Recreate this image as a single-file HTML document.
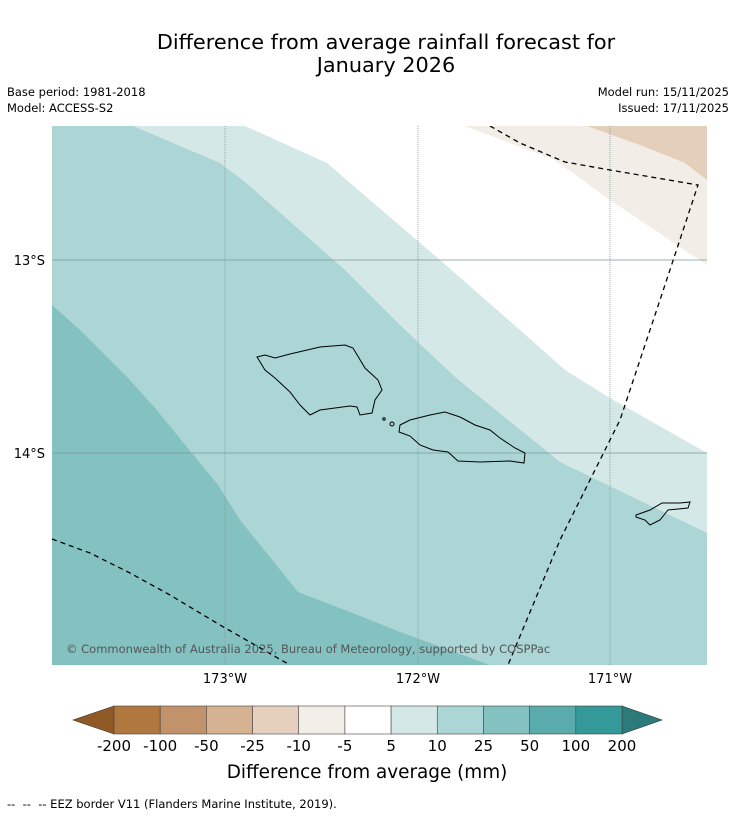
<!DOCTYPE html>
<html><head><meta charset="utf-8"><style>
body{margin:0;background:#fff;width:736px;height:816px;overflow:hidden;font-family:"DejaVu Sans","Liberation Sans",sans-serif}
.t{position:absolute;color:#000}
svg text{font-family:"DejaVu Sans","Liberation Sans",sans-serif}
</style></head><body>
<div class="t" style="left:0;width:772px;top:31px;text-align:center;font-size:20.8px;line-height:23px">Difference from average rainfall forecast for<br>January 2026</div>
<div class="t" style="left:7px;top:84px;font-size:11.5px;line-height:16px">Base period: 1981-2018<br>Model: ACCESS-S2</div>
<div class="t" style="right:7px;top:84px;font-size:11.5px;line-height:16px;text-align:right">Model run: 15/11/2025<br>Issued: 17/11/2025</div>
<svg id="s" width="736" height="816" style="position:absolute;left:0;top:0">
<defs><clipPath id="c"><rect x="52" y="126" width="655" height="539"/></clipPath></defs>
<g clip-path="url(#c)">
<rect x="52" y="126" width="655" height="539" fill="#fff"/>
<polygon fill="#d4e8e7" points="52,126 245,126 327,163 350,183 440,260 520,330 565,370 610,398 707,453 707,665 52,665"/>
<polygon fill="#acd5d5" points="52,126 133,126 220,163 245,182 345,270 400,325 455,377 560,462 707,533 707,665 52,665"/>
<polygon fill="#84c1c1" points="52,305 80,330 128,378 155,408 218,485 240,520 298,592 350,612 400,632 490,665 52,665"/>
<polygon fill="#f2ede6" points="465,126 555,160 610,200 707,265 707,126"/>
<polygon fill="#e4cfbb" points="587,126 640,145 685,163 707,180 707,126"/>
<g stroke="#7a9a9a" stroke-width="0.8" fill="none">
<line x1="52" y1="260" x2="707" y2="260"/>
<line x1="52" y1="453" x2="707" y2="453"/>
<line x1="225" y1="126" x2="225" y2="665" stroke-dasharray="1,1"/>
<line x1="418" y1="126" x2="418" y2="665" stroke-dasharray="1,1"/>
<line x1="610" y1="126" x2="610" y2="665" stroke-dasharray="1,1"/>
</g>
<g fill="none" stroke="#000" stroke-width="1">
<polygon points="257,357 265,355 275,358 290,354 320,347 345,345 353,348 365,368 378,380 382,390 375,400 372,413 360,415 357,407 350,406 320,410 310,415 300,405 290,392 275,378 265,370"/>
<polygon points="400,425 410,420 430,415 445,412 460,417 475,425 490,430 500,438 515,448 525,453 524,463 510,461 480,462 458,461 448,452 433,450 420,445 410,436 399,432"/>
<polygon points="636,515 650,510 662,503 680,503 690,502 688,508 668,510 660,520 650,525 645,520 636,517"/>
<circle cx="384" cy="419" r="1.2"/><circle cx="392" cy="424" r="2"/>
<polyline stroke-dasharray="5,4" stroke-width="1.3" points="52,539 90,553 130,573 170,595 220,625 290,665"/>
<polyline stroke-dasharray="5,4" stroke-width="1.3" points="490,126 520,143 565,162 610,170 698,185 660,300 620,420 560,540 508,665"/>
</g>
</g>
<text x="66" y="653" font-size="11.5" fill="#555">© Commonwealth of Australia 2025, Bureau of Meteorology, supported by COSPPac</text>
<g font-size="13" fill="#000">
<text x="45" y="265" text-anchor="end">13°S</text>
<text x="45" y="458" text-anchor="end">14°S</text>
<text x="225" y="683" text-anchor="middle">173°W</text>
<text x="418" y="683" text-anchor="middle">172°W</text>
<text x="610" y="683" text-anchor="middle">171°W</text>
</g>
<g id="cb"></g>
<text x="367" y="778" font-size="18.4" text-anchor="middle">Difference from average (mm)</text>
<text x="7" y="808" font-size="11.5">-- &#160;-- &#160;-- EEZ border V11 (Flanders Marine Institute, 2019).</text>
</svg>
<script>
const cbLabels=["-200","-100","-50","-25","-10","-5","5","10","25","50","100","200"];
const cbColors=["#b0773f","#c2936a","#d4b292","#e5d0bd","#f2eee8","#ffffff","#d4e8e7","#acd5d5","#84c1c1","#5aabab","#339999"];
const lowColor="#8f5a25", highColor="#2d7a7a";
const NS="http://www.w3.org/2000/svg", g=document.getElementById('cb');
const x0=114,x1=622,y0=706,y1=734,w=(x1-x0)/cbColors.length;
function mk(t,a){const e=document.createElementNS(NS,t);for(const k in a)e.setAttribute(k,a[k]);g.appendChild(e);return e;}
let p=mk('polygon',{points:`${x0},${y0} 73,${(y0+y1)/2} ${x0},${y1}`,fill:lowColor,stroke:'#333','stroke-width':0.6});


p=mk('polygon',{points:`${x1},${y0} 662,${(y0+y1)/2} ${x1},${y1}`,fill:highColor,stroke:'#333','stroke-width':0.6});


cbColors.forEach((c,i)=>{const r=mk('rect',{x:x0+i*w,y:y0,width:w,height:y1-y0,fill:c,stroke:'#444','stroke-width':0.6});

});
cbLabels.forEach((l,i)=>{const t=mk('text',{x:x0+i*w,y:751,'font-size':15,'text-anchor':'middle'});t.textContent=l;

});
</script>
</body></html>
